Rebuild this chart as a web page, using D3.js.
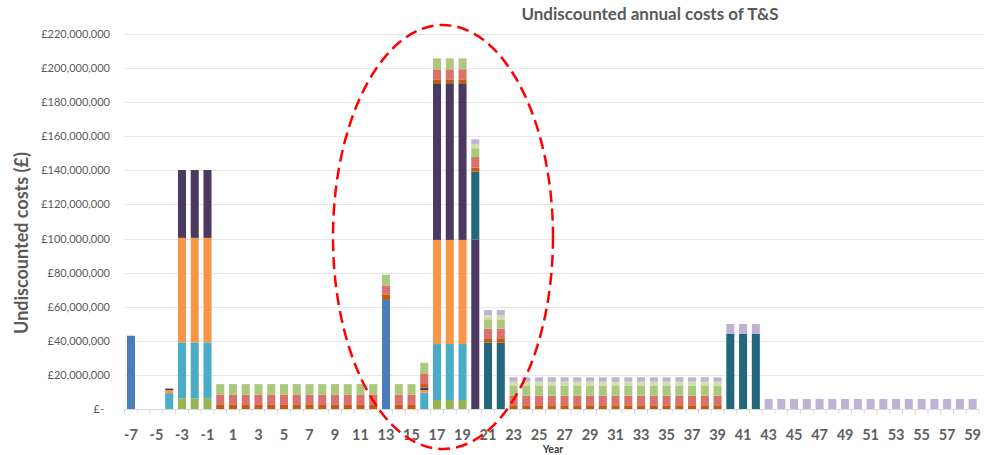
<!DOCTYPE html>
<meta charset="utf-8">
<style>
body { margin: 0; background: #fff; }
svg { font-family: Lato, "Open Sans", sans-serif; }
.grid line { stroke: #e6e6e6; }
.ytick { fill: #595959; font-size: 11px; }
.xtick { fill: #606060; font-size: 14.5px; font-weight: bold; }
</style>
<svg width="984" height="455"></svg>
<script src="https://cdn.jsdelivr.net/npm/d3@7"></script>
<script>

// years -7 .. 59, values in £ millions (rows of 10 years)
var years = d3.range(-7, 60);

var olive = [0,0,0,0,6.3,6.3,6.3,0,0,0,
  0,0,0,0,0,0,0,0,0,0,
  0,0,0,0,5.3,5.3,5.3,0,0,0,
  0,0,0,0,0,0,0,0,0,0,
  0,0,0,0,0,0,0,0,0,0,
  0,0,0,0,0,0,0,0,0,0,
  0,0,0,0,0,0,0];
var blue = [43,0,0,0,0,0,0,0,0,0,
  0,0,0,0,0,0,0,0,0,0,
  64,0,0,0,0,0,0,0,0,0,
  0,0,0,0,0,0,0,0,0,0,
  0,0,0,0,0,0,0,0,0,0,
  0,0,0,0,0,0,0,0,0,0,
  0,0,0,0,0,0,0];
var cyan = [0,0,0,9.3,32.8,32.8,32.8,0,0,0,
  0,0,0,0,0,0,0,0,0,0,
  0,0,0,9.6,32.8,32.8,32.8,0,0,0,
  0,0,0,0,0,0,0,0,0,0,
  0,0,0,0,0,0,0,0,0,0,
  0,0,0,0,0,0,0,0,0,0,
  0,0,0,0,0,0,0];
var orange = [0,0,0,1.8,61.3,61.3,61.3,0,0,0,
  0,0,0,0,0,0,0,0,0,0,
  0,0,0,1.5,61.1,61.1,61.1,0,0,0,
  0,0,0,0,0,0,0,0,0,0,
  0,0,0,0,0,0,0,0,0,0,
  0,0,0,0,0,0,0,0,0,0,
  0,0,0,0,0,0,0];
var purple = [0,0,0,0.9,39.8,39.8,39.8,0,0,0,
  0,0,0,0,0,0,0,0,0,0,
  0,0,0,1.5,91.9,91.9,91.9,99.5,0,0,
  0,0,0,0,0,0,0,0,0,0,
  0,0,0,0,0,0,0,0,0,0,
  0,0,0,0,0,0,0,0,0,0,
  0,0,0,0,0,0,0];
var teal = [0,0,0,0,0,0,0,0,0,0,
  0,0,0,0,0,0,0,0,0,0,
  0,0,0,0,0,0,0,39.7,38.9,38.9,
  0,0,0,0,0,0,0,0,0,0,
  0,0,0,0,0,0,0,44,44,44,
  0,0,0,0,0,0,0,0,0,0,
  0,0,0,0,0,0,0];
var darkOrange = [0,0,0,0,0,0,0,2.4,2.4,2.4,
  2.4,2.4,2.4,2.4,2.4,2.4,2.4,2.4,2.4,2.4,
  3,2.4,2.4,2,2.3,2.3,2.3,2.4,2.6,2.6,
  2.2,2.2,2.2,2.2,2.2,2.2,2.2,2.2,2.2,2.2,
  2.2,2.2,2.2,2.2,2.2,2.2,2.2,0,0,0,
  0,0,0,0,0,0,0,0,0,0,
  0,0,0,0,0,0,0];
var salmon = [0,0,0,0,0,0,0,5.9,5.9,5.9,
  5.9,5.9,5.9,5.9,5.9,5.9,5.9,5.9,5.9,5.9,
  5.5,5.9,5.9,6,5.9,5.9,5.9,6.2,5.6,5.6,
  5.6,5.6,5.6,5.6,5.6,5.6,5.6,5.6,5.6,5.6,
  5.6,5.6,5.6,5.6,5.6,5.6,5.6,0,0,0,
  0,0,0,0,0,0,0,0,0,0,
  0,0,0,0,0,0,0];
var green = [0,0,0,0,0,0,0,6.3,6.3,6.3,
  6.3,6.3,6.3,6.3,6.3,6.3,6.3,6.3,6.3,6.3,
  6.3,6.3,6.3,6.5,6.4,6.4,6.4,5.2,5.5,5.5,
  5.7,5.7,5.7,5.7,5.7,5.7,5.7,5.7,5.7,5.7,
  5.7,5.7,5.7,5.7,5.7,5.7,5.7,0,0,0,
  0,0,0,0,0,0,0,0,0,0,
  0,0,0,0,0,0,0];
var lightGreen = [0,0,0,0,0,0,0,0,0,0,
  0,0,0,0,0,0,0,0,0,0,
  0,0,0,0,0,0,0,2.5,2.5,2.5,
  2.5,2.5,2.5,2.5,2.5,2.5,2.5,2.5,2.5,2.5,
  2.5,2.5,2.5,2.5,2.5,2.5,2.5,0,0,0,
  0,0,0,0,0,0,0,0,0,0,
  0,0,0,0,0,0,0];
var lavender = [0,0,0,0,0,0,0,0,0,0,
  0,0,0,0,0,0,0,0,0,0,
  0,0,0,0,0,0,0,2.7,3,3,
  2.6,2.6,2.6,2.6,2.6,2.6,2.6,2.6,2.6,2.6,
  2.6,2.6,2.6,2.6,2.6,2.6,2.6,5.9,5.9,5.9,
  5.9,5.9,5.9,5.9,5.9,5.9,5.9,5.9,5.9,5.9,
  5.9,5.9,5.9,5.9,5.9,5.9,5.9];

var seriesNames = ["olive","blue","cyan","orange","purple","teal","darkOrange","salmon","green","lightGreen","lavender"];
var seriesData = [olive, blue, cyan, orange, purple, teal, darkOrange, salmon, green, lightGreen, lavender];
var colors = ["#93b653","#4a7ebb","#4aacc6","#f79646","#4a3a62","#22677a","#c55a11","#d9716d","#aac97c","#cfe0ad","#bfb2d4"];

var yTicks = d3.range(0, 221, 20);

var rows = years.map(function(yr, i) {
  var r = {year: yr};
  seriesNames.forEach(function(n, k) { r[n] = seriesData[k][i]; });
  return r;
});

var svg = d3.select("svg");
var plotLeft = 124.6, plotRight = 979, plotTop = 34, plotBottom = 409;

var x = d3.scaleBand()
    .domain(years)
    .range([plotLeft, plotRight])
    .paddingInner(0.37)
    .paddingOuter(0.185);

var y = d3.scaleLinear()
    .domain([0, 220])
    .range([plotBottom, plotTop]);

// gridlines
svg.append("g")
    .attr("class", "grid")
  .selectAll("line")
    .data(yTicks.filter(function(d) { return d > 0; }))
  .enter().append("line")
    .attr("x1", 125).attr("x2", 984)
    .attr("y1", function(d) { return Math.round(y(d)) + 0.5; })
    .attr("y2", function(d) { return Math.round(y(d)) + 0.5; });

// y labels
var fmt = d3.format(",");
svg.append("g")
  .selectAll("text")
    .data(yTicks)
  .enter().append("text")
    .attr("class", "ytick")
    .attr("x", function(d) { return d === 0 ? 104 : 110; })
    .attr("y", function(d) { return y(d) + 4; })
    .attr("text-anchor", "end")
    .text(function(d) { return d === 0 ? "£-" : "£" + fmt(d * 1e6); });

// bars
var stack = d3.stack().keys(seriesNames);
svg.append("g")
  .selectAll("g")
    .data(stack(rows))
  .enter().append("g")
    .attr("fill", function(d, i) { return colors[i]; })
  .selectAll("rect")
    .data(function(d) { return d.filter(function(p) { return p[1] - p[0] > 0; }); })
  .enter().append("rect")
    .attr("x", function(d) { return x(d.data.year); })
    .attr("width", x.bandwidth())
    .attr("y", function(d) { return y(d[1]); })
    .attr("height", function(d) { return y(d[0]) - y(d[1]); });

// x axis line + category ticks
var step = x.step();
svg.append("line")
    .attr("x1", plotLeft).attr("x2", plotRight)
    .attr("y1", plotBottom + 0.5).attr("y2", plotBottom + 0.5)
    .attr("stroke", "#d9d9d9");
svg.append("g")
  .selectAll("line")
    .data(d3.range(years.length + 1))
  .enter().append("line")
    .attr("x1", function(i) { return plotLeft + i * step; })
    .attr("x2", function(i) { return plotLeft + i * step; })
    .attr("y1", plotBottom).attr("y2", plotBottom + 5)
    .attr("stroke", "#d9d9d9");

svg.append("g")
  .selectAll("text")
    .data(years.filter(function(d) { return Math.abs(d % 2) === 1; }))
  .enter().append("text")
    .attr("class", "xtick")
    .attr("x", function(d) { return x(d) + x.bandwidth() / 2; })
    .attr("y", 440)
    .attr("text-anchor", "middle")
    .text(function(d) { return d; });

// titles
svg.append("text")
    .attr("x", 650).attr("y", 20)
    .attr("text-anchor", "middle")
    .attr("fill", "#595959")
    .style("font-size", "17px").style("font-weight", "bold")
    .text("Undiscounted annual costs of T&S");

svg.append("text")
    .attr("transform", "translate(28,243) rotate(-90)")
    .attr("text-anchor", "middle")
    .attr("fill", "#595959")
    .style("font-size", "18px").style("font-weight", "bold")
    .text("Undiscounted costs (£)");

svg.append("text")
    .attr("x", 553).attr("y", 453)
    .attr("text-anchor", "middle")
    .attr("fill", "#404040")
    .style("font-size", "10.5px").style("font-weight", "bold")
    .text("Year");

// red dashed highlight
svg.append("ellipse")
    .attr("cx", 443).attr("cy", 237)
    .attr("rx", 110).attr("ry", 212)
    .attr("fill", "none")
    .attr("stroke", "#ff0000")
    .attr("stroke-width", 2.5)
    .attr("stroke-dasharray", "12,6");

</script>
